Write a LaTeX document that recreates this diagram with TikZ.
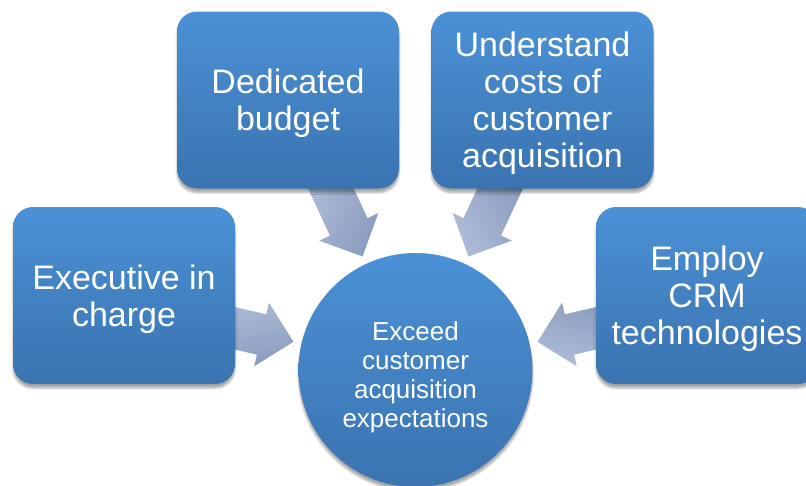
\documentclass[tikz,border=0pt]{standalone}
\usepackage{fontspec}
\setmainfont{Liberation Sans}
\usetikzlibrary{shapes.arrows,shadows.blur,calc}

\definecolor{boxtop}{RGB}{75,145,214}
\definecolor{boxbottom}{RGB}{58,115,176}
\definecolor{arrowtop}{RGB}{174,188,216}
\definecolor{arrowbottom}{RGB}{138,156,190}

\begin{document}
\begin{tikzpicture}[x=1pt,y=-1pt,
	box/.style={rounded corners=20pt,minimum width=222pt,minimum height=177pt,inner sep=0pt,text depth=0pt,top color=boxtop,bottom color=boxbottom,text=white,align=center,font=\fontsize{34}{37}\selectfont,blur shadow={shadow xshift=0pt,shadow yshift=-4pt,shadow blur steps=6,shadow opacity=35}},
	goal/.style={circle,minimum size=234pt,inner sep=0pt,text height=114pt,text depth=0pt,top color=boxtop,bottom color=boxbottom,text=white,align=center,font=\fontsize{26}{29}\selectfont,blur shadow={shadow xshift=0pt,shadow yshift=-4pt,shadow blur steps=6,shadow opacity=35}},
	conv/.style={single arrow,anchor=tip,minimum height=90pt,minimum width=0pt,single arrow head extend=12pt,inner xsep=0pt,inner ysep=20.5pt,top color=arrowtop,bottom color=arrowbottom,rotate=#1,shading angle=-#1}]
			\useasboundingbox (0,0) rectangle (806,485);
			\clip (0,0) rectangle (806,485);
			
			\coordinate (c) at (415.5,370);
			\node[conv=-13] (al) at ($(c)+(193:125)$) {};
			\node[conv=-65] (atl) at ($(c)+(245:125)$) {};
			\node[conv=-115] (atr) at ($(c)+(295:125)$) {};
			\node[conv=-167] (ar) at ($(c)+(347:125)$) {};
			
			\node[box] (exec) at (124,295.5) {Executive in\\charge};
			\node[box] (budget) at (288,100) {Dedicated\\budget};
			\node[box] (costs) at (542.5,100) {Understand\\costs of\\customer\\acquisition};
			\node[box] (crm) at (707,295.5) {Employ\\CRM\\technologies};
			\node[goal] (target) at (c) {Exceed\\customer\\acquisition\\expectations};
		\end{tikzpicture}
\end{document}
